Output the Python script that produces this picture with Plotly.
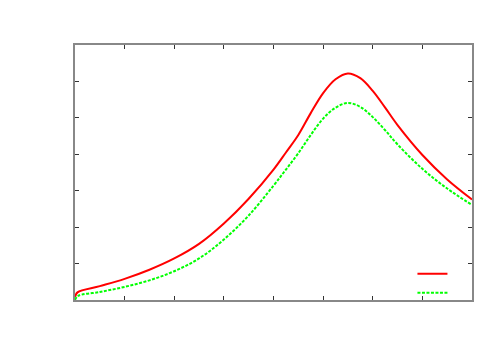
import plotly.graph_objects as go

# --- data (x in axis units 0..8, y in 0..7) ---
x_red = [0, 0.05, 0.5, 1.0, 1.5, 2.0, 2.5, 3.0, 3.5, 4.0, 4.25, 4.5, 4.75,
         5.0, 5.25, 5.5, 5.75, 6.0, 6.25, 6.5, 7.0, 7.5, 8.0]
y_red = [0.08, 0.21, 0.38, 0.58, 0.83, 1.14, 1.54, 2.10, 2.78, 3.58, 4.05,
         4.53, 5.13, 5.68, 6.06, 6.22, 6.09, 5.74, 5.28, 4.80, 3.98, 3.31, 2.76]

x_green = [0, 0.06, 0.5, 1.0, 1.5, 2.0, 2.5, 3.0, 3.5, 4.0, 4.25, 4.5, 4.75,
           5.0, 5.25, 5.5, 5.75, 6.0, 6.25, 6.5, 7.0, 7.5, 8.0]
y_green = [0.0, 0.11, 0.22, 0.36, 0.54, 0.79, 1.14, 1.66, 2.32, 3.14, 3.58,
           4.03, 4.53, 4.98, 5.28, 5.41, 5.30, 5.02, 4.66, 4.27, 3.60, 3.06, 2.61]

x_ticks = [0, 1, 2, 3, 4, 5, 6, 7, 8]
y_ticks = [0, 1, 2, 3, 4, 5, 6, 7]

fig = go.Figure()
fig.add_trace(go.Scatter(
    x=x_red, y=y_red, mode="lines", name="",
    line=dict(color="#ff0000", width=2, shape="spline", smoothing=1.0),
))
fig.add_trace(go.Scatter(
    x=x_green, y=y_green, mode="lines", name="",
    line=dict(color="#00ff00", width=2, dash="3px,1.5px", shape="spline", smoothing=1.0),
))

axis_common = dict(
    showgrid=False, zeroline=False, showticklabels=False,
    ticks="inside", ticklen=4, tickcolor="#333333", tickwidth=1,
    showline=True, linecolor="#888888", linewidth=2, mirror="allticks",
)
fig.update_xaxes(range=[0, 8], tickvals=x_ticks, **axis_common)
fig.update_yaxes(range=[0, 7], tickvals=y_ticks, **axis_common)

# the page body adds an 8px offset, so margins are trimmed to match
fig.update_layout(
    width=500, height=350,
    margin=dict(l=67, r=36, t=37, b=58),
    paper_bgcolor="white", plot_bgcolor="white",
    showlegend=True,
    legend=dict(x=0.85, y=0.16, xanchor="left", yanchor="top",
                bgcolor="rgba(0,0,0,0)", font=dict(size=6),
                tracegroupgap=0, itemwidth=30),
)

fig.write_html("out.html")
